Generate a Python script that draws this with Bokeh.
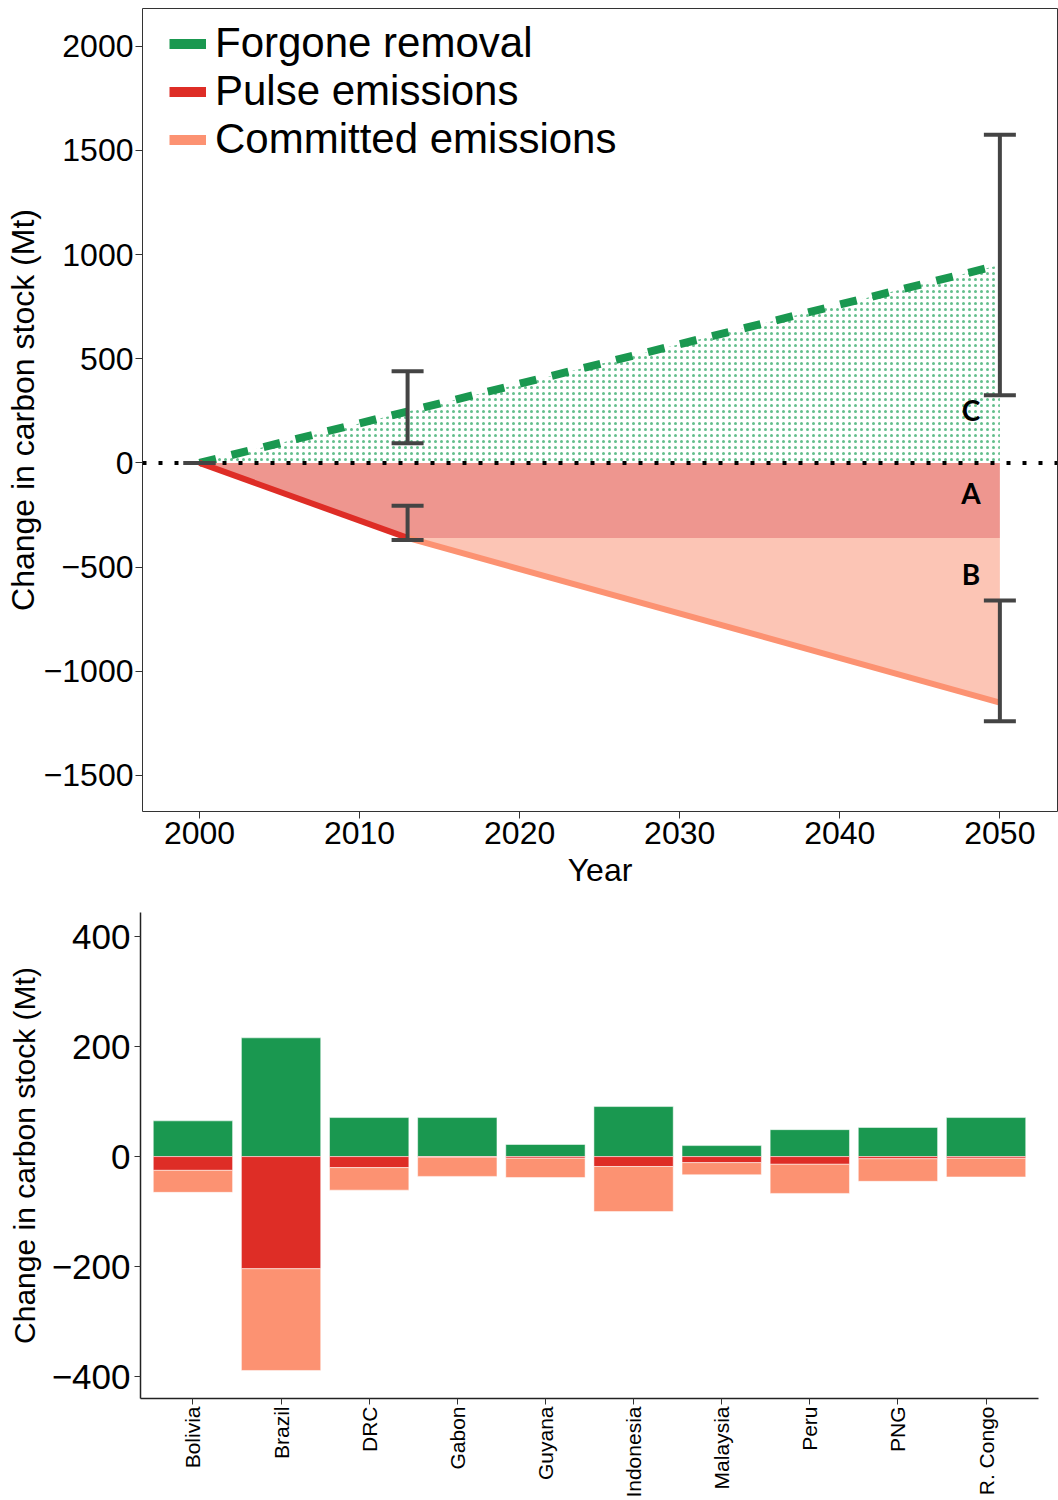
import numpy as np
from bokeh.plotting import figure
from bokeh.models import (Range1d, FactorRange, Span, Whisker, TeeHead, ColumnDataSource,
                          Label, Legend, LegendItem, FixedTicker)
from bokeh.embed import file_html
from bokeh.resources import INLINE

# ---------------- data: top panel ----------------
pulse_years = [2000, 2013]
pulse_vals = [0, -360]
committed_years = [2013, 2050]
committed_vals = [-360, -1150]
forgone_years = [2000, 2050]
forgone_vals = [0, 950]

forgone_err_years = [2000, 2013, 2050]
forgone_err_lo = [0, 95, 325]
forgone_err_hi = [0, 440, 1575]
emis_err_years = [2013, 2050]
emis_err_lo = [-370, -1240]
emis_err_hi = [-205, -660]

year_ticks = [2000, 2010, 2020, 2030, 2040, 2050]
top_y_ticks = [-1500, -1000, -500, 0, 500, 1000, 1500, 2000]

# ---------------- data: bottom panel ----------------
countries = ["Bolivia", "Brazil", "DRC", "Gabon", "Guyana", "Indonesia",
             "Malaysia", "Peru", "PNG", "R. Congo"]
forgone_c = [65, 216, 71, 71, 22, 91, 20, 49, 53, 71]
pulse_c = [25, 204, 20, 1, 3, 18, 11, 14, 4, 3]
committed_c = [40, 185, 41, 35, 35, 82, 22, 53, 41, 34]
bottom_y_ticks = [-400, -200, 0, 200, 400]

GREEN = "#1a9850"
RED = "#de2d26"
SALMON = "#fc9272"
A_FILL = "#ee968f"
B_FILL = "#fcc5b5"
GREY = "#444444"
FONT = "Liberation Sans"

def minus(v):
    return str(v).replace("-", "\u2212")

# ---------------- top figure ----------------
p = figure(width=1058, height=890, output_backend="svg", toolbar_location=None,
           x_range=Range1d(1996.44, 2053.6), y_range=Range1d(-1673, 2181),
           min_border_left=142, min_border_right=1, min_border_top=8, min_border_bottom=78)
p.xgrid.visible = False
p.ygrid.visible = False
p.outline_line_color = "#333333"
p.outline_line_width = 1
p.background_fill_color = "white"

# area C (forgone removal), dotted
p.varea(x=forgone_years, y1=[0] * len(forgone_years), y2=forgone_vals,
        fill_color=None, fill_alpha=0, hatch_pattern="dot", hatch_color="#2fa866",
        hatch_scale=6, hatch_weight=1, hatch_alpha=0.75)
# area A (pulse)
a_x = pulse_years + [committed_years[-1]]
a_y2 = pulse_vals + [pulse_vals[-1]]
p.varea(x=a_x, y1=[0] * len(a_x), y2=a_y2, fill_color=A_FILL)
# area B (committed)
p.varea(x=committed_years, y1=[pulse_vals[-1]] * len(committed_years), y2=committed_vals,
        fill_color=B_FILL)

zero = Span(location=0, dimension="width", line_color="black", line_width=4,
            line_dash="4 12", level="annotation")
p.add_layout(zero)

p.line(forgone_years, forgone_vals, line_color=GREEN, line_width=8, line_dash="17 16")
p.line(committed_years, committed_vals, line_color=SALMON, line_width=6)
p.line(pulse_years, pulse_vals, line_color=RED, line_width=6)

for xs, lo, hi in [(forgone_err_years, forgone_err_lo, forgone_err_hi),
                   (emis_err_years, emis_err_lo, emis_err_hi)]:
    src = ColumnDataSource(dict(x=xs, lower=lo, upper=hi))
    w = Whisker(source=src, base="x", lower="lower", upper="upper",
                line_color=GREY, line_width=4, level="annotation",
                upper_head=TeeHead(size=32, line_color=GREY, line_width=4),
                lower_head=TeeHead(size=32, line_color=GREY, line_width=4))
    p.add_layout(w)

for txt, yy in [("C", 254), ("A", -144), ("B", -532)]:
    p.add_layout(Label(x=2048.2, y=yy, text=txt, text_font="Lato", text_font_style="bold",
                       text_font_size="28px", text_align="center", text_baseline="middle",
                       text_color="black"))

# legend with thick solid keys
r1 = p.line(x=[np.nan], y=[np.nan], line_color=GREEN, line_width=10)
r2 = p.line(x=[np.nan], y=[np.nan], line_color=RED, line_width=10)
r3 = p.line(x=[np.nan], y=[np.nan], line_color=SALMON, line_width=10)
leg = Legend(items=[LegendItem(label="Forgone removal", renderers=[r1]),
                    LegendItem(label="Pulse emissions", renderers=[r2]),
                    LegendItem(label="Committed emissions", renderers=[r3])],
             location=(27, 648), margin=0, padding=0, spacing=0,
             glyph_width=37, glyph_height=45, label_height=45, label_standoff=9,
             label_text_font=FONT, label_text_font_size="42px", label_text_color="black",
             label_text_line_height=1.0,
             background_fill_alpha=0, border_line_color=None)
p.add_layout(leg)

p.xaxis.ticker = FixedTicker(ticks=year_ticks)
p.yaxis.ticker = FixedTicker(ticks=top_y_ticks)
p.yaxis.major_label_overrides = {v: minus(v) for v in top_y_ticks}
p.xaxis.axis_label = "Year"
p.yaxis.axis_label = "Change in carbon stock (Mt)"
for ax in (p.xaxis[0], p.yaxis[0]):
    ax.axis_line_color = None
    ax.major_tick_line_color = "#333333"
    ax.major_tick_line_width = 1
    ax.major_tick_out = 7
    ax.major_tick_in = 0
    ax.minor_tick_line_color = None
    ax.major_label_text_font = FONT
    ax.major_label_text_font_size = "32px"
    ax.major_label_text_color = "black"
    ax.axis_label_text_font = FONT
    ax.axis_label_text_font_size = "32px"
    ax.axis_label_text_font_style = "normal"
    ax.axis_label_text_color = "black"
p.xaxis.major_label_standoff = 3
p.xaxis.axis_label_standoff = 5
p.yaxis.major_label_standoff = 2
p.yaxis.axis_label_standoff = 0

# ---------------- bottom figure ----------------
b = figure(width=1058, height=610, output_backend="svg", toolbar_location=None,
           x_range=FactorRange(factors=countries, range_padding=0.095,
                               range_padding_units="absolute"),
           y_range=Range1d(-440, 444),
           min_border_left=140, min_border_right=20, min_border_top=22, min_border_bottom=100)
b.xgrid.visible = False
b.ygrid.visible = False
b.outline_line_color = None

fg = np.array(forgone_c, dtype=float)
pu = -np.array(pulse_c, dtype=float)
cm = pu - np.array(committed_c, dtype=float)
b.vbar(x=countries, top=fg, bottom=0, width=0.9, fill_color=GREEN,
       line_color="white", line_alpha=0.5, line_width=1)
b.vbar(x=countries, top=0, bottom=pu, width=0.9, fill_color=RED,
       line_color="white", line_alpha=0.5, line_width=1)
b.vbar(x=countries, top=pu, bottom=cm, width=0.9, fill_color=SALMON,
       line_color="white", line_alpha=0.5, line_width=1)

b.yaxis.ticker = FixedTicker(ticks=bottom_y_ticks)
b.yaxis.major_label_overrides = {v: minus(v) for v in bottom_y_ticks}
b.yaxis.axis_label = "Change in carbon stock (Mt)"
b.xaxis.major_label_orientation = np.pi / 2
for ax in (b.xaxis[0], b.yaxis[0]):
    ax.axis_line_color = "#222222"
    ax.axis_line_width = 1.5
    ax.major_tick_line_color = "#333333"
    ax.major_tick_out = 6
    ax.major_tick_in = 0
    ax.minor_tick_line_color = None
    ax.major_label_text_font = FONT
    ax.major_label_text_color = "black"
    ax.axis_label_text_font = FONT
    ax.axis_label_text_font_style = "normal"
    ax.axis_label_text_color = "black"
b.yaxis.major_label_text_font_size = "35px"
b.yaxis.axis_label_text_font_size = "30px"
b.yaxis.major_label_standoff = 4
b.yaxis.axis_label_standoff = 8
b.xaxis.major_label_text_font_size = "21px"
b.xaxis.major_label_standoff = 2

open("out.html", "w").write(file_html([p, b], INLINE))
